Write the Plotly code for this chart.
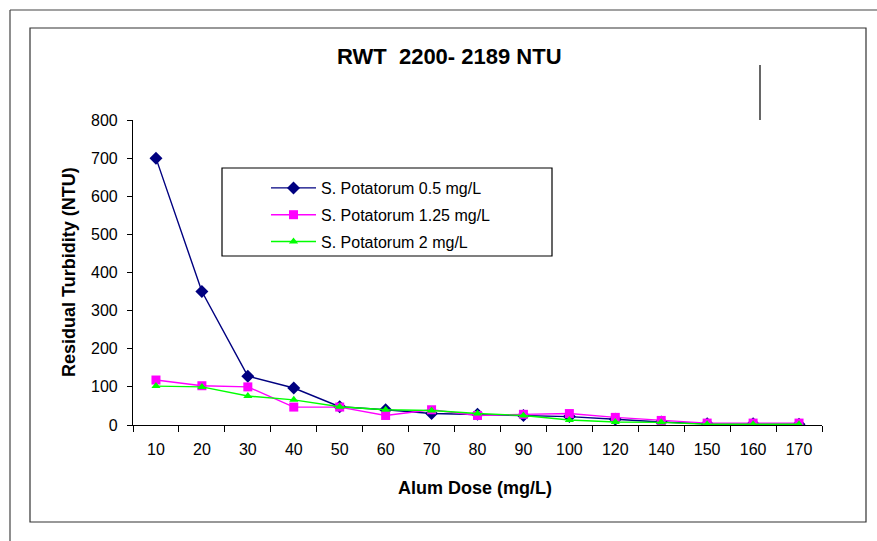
import plotly.graph_objects as go

doses = ["10", "20", "30", "40", "50", "60", "70", "80", "90", "100", "120", "140", "150", "160", "170"]
sp_05 = [700, 350, 128, 97, 48, 40, 30, 28, 25, 22, 15, 8, 3, 3, 2]
sp_125 = [118, 103, 100, 47, 47, 25, 40, 25, 28, 30, 20, 12, 5, 5, 5]
sp_2 = [102, 100, 76, 66, 48, 40, 38, 30, 25, 13, 8, 7, 2, 2, 2]
names = ["S. Potatorum 0.5 mg/L", "S. Potatorum 1.25 mg/L", "S. Potatorum 2 mg/L"]
y_ticks = [0, 100, 200, 300, 400, 500, 600, 700, 800]

W, H = 877, 541
L, R, T, B = 133, 55, 120, 116
pw, ph = W - L - R, H - T - B

def px(x):
    return (x - L) / pw

def py(y):
    return (H - B - y) / ph

FONT = "Liberation Sans, Arial, sans-serif"

fig = go.Figure()
styles = [
    dict(color="#000080", symbol="diamond", size=10),
    dict(color="#FF00FF", symbol="square", size=9),
    dict(color="#00FF00", symbol="triangle-up", size=8),
]
for i, (vals, st) in enumerate(zip([sp_05, sp_125, sp_2], styles)):
    fig.add_trace(go.Scatter(
        x=doses, y=vals, name=names[i], mode="lines+markers",
        legendgroup=f"g{i}",
        line=dict(color=st["color"], width=1.4),
        marker=dict(color=st["color"], symbol=st["symbol"], size=st["size"]),
    ))

shapes = [
    dict(type="line", xref="paper", yref="paper", x0=px(10), x1=px(877), y0=py(10), y1=py(10),
         line=dict(color="#444", width=1.2)),
    dict(type="line", xref="paper", yref="paper", x0=px(10), x1=px(10), y0=py(10), y1=py(541),
         line=dict(color="#444", width=1.2)),
    dict(type="rect", xref="paper", yref="paper", x0=px(30), x1=px(866), y0=py(28), y1=py(522),
         line=dict(color="#333", width=1.2)),
    dict(type="line", xref="paper", yref="paper", x0=px(760), x1=px(760), y0=py(65), y1=py(120),
         line=dict(color="#000", width=1.2)),
    dict(type="rect", xref="paper", yref="paper", x0=px(222), x1=px(552), y0=py(168), y1=py(256),
         line=dict(color="#000", width=1.2)),
]

annotations = [
    dict(text="<b>RWT  2200- 2189 NTU</b>", xref="paper", yref="paper", x=px(449), y=py(57),
         showarrow=False, font=dict(family=FONT, size=22, color="#000"), xanchor="center", yanchor="middle"),
    dict(text="<b>Alum Dose (mg/L)</b>", xref="paper", yref="paper", x=px(475), y=py(488),
         showarrow=False, font=dict(family=FONT, size=18, color="#000"), xanchor="center", yanchor="middle"),
    dict(text="<b>Residual Turbidity (NTU)</b>", xref="paper", yref="paper", x=px(69), y=py(272),
         showarrow=False, textangle=-90, font=dict(family=FONT, size=18, color="#000"),
         xanchor="center", yanchor="middle"),
]

fig.update_layout(
    width=W, height=H,
    margin=dict(l=L, r=R, t=T, b=B),
    paper_bgcolor="white", plot_bgcolor="white",
    font=dict(family=FONT, size=16, color="#000"),
    showlegend=True,
    legend=dict(x=px(266), y=py(171), xanchor="left", yanchor="top",
                bgcolor="rgba(0,0,0,0)", borderwidth=0, font=dict(size=16),
                tracegroupgap=3, traceorder="grouped", itemwidth=45),
    shapes=shapes, annotations=annotations,
    xaxis=dict(type="category", range=[-0.5, len(doses) - 0.5], showgrid=False, showline=True,
               linecolor="#000", linewidth=1.2,
               ticks="outside", ticklen=6, tickcolor="#000", tickson="boundaries",
               tickfont=dict(size=16), zeroline=False, ticklabelstandoff=10),
    yaxis=dict(range=[0, 800], tickvals=y_ticks, showgrid=False, showline=True, linecolor="#000",
               linewidth=1.2, ticks="outside", ticklen=5, tickcolor="#000", zeroline=False,
               tickfont=dict(size=16), ticklabelstandoff=6),
)

fig.write_html("out.html", config={"displayModeBar": False},
               post_script="document.body.style.margin='0';document.body.style.padding='0';")
